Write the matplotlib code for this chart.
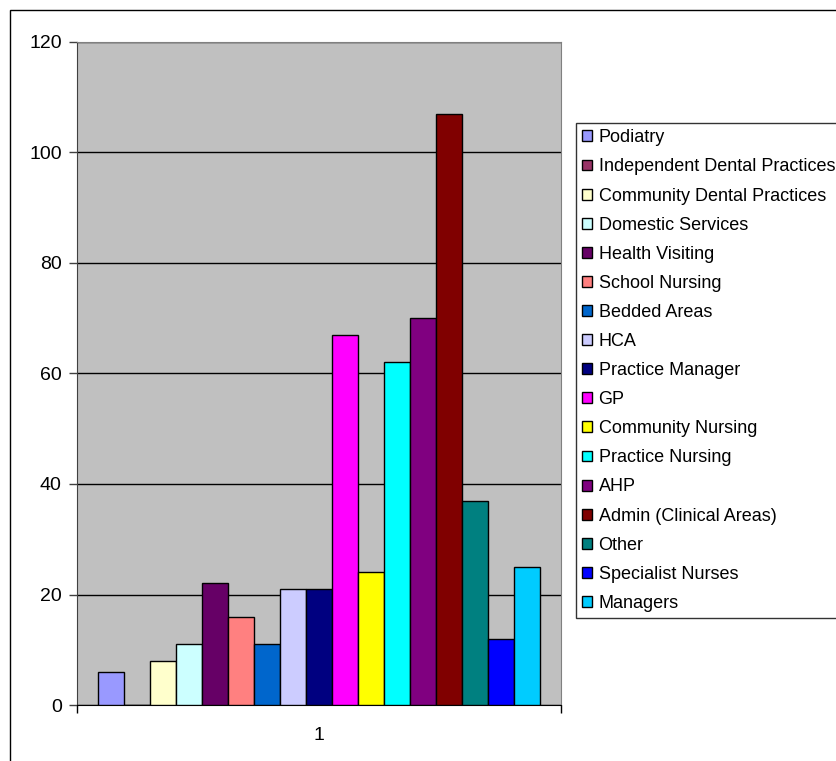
import matplotlib
matplotlib.use("Agg")
import matplotlib.pyplot as plt
from matplotlib.patches import Rectangle

plt.rcParams['font.family'] = ['Liberation Sans', 'DejaVu Sans']

staff_groups = [
    'Podiatry', 'Independent Dental Practices', 'Community Dental Practices',
    'Domestic Services', 'Health Visiting', 'School Nursing', 'Bedded Areas',
    'HCA', 'Practice Manager', 'GP', 'Community Nursing', 'Practice Nursing',
    'AHP', 'Admin (Clinical Areas)', 'Other', 'Specialist Nurses', 'Managers',
]
counts = [6, 0, 8, 11, 22, 16, 11, 21, 21, 67, 24, 62, 70, 107, 37, 12, 25]
colours = [
    '#9999FF', '#993366', '#FFFFCC', '#CCFFFF', '#660066', '#FF8080',
    '#0066CC', '#CCCCFF', '#000080', '#FF00FF', '#FFFF00', '#00FFFF',
    '#800080', '#800000', '#008080', '#0000FF', '#00CCFF',
]
category = '1'
y_ticks = [0, 20, 40, 60, 80, 100, 120]

W, H = 836, 761
fig = plt.figure(figsize=(W / 100, H / 100), dpi=100)
fig.patch.set_facecolor('white')

# chart area border (runs off the right and bottom edges)
fig.patches.append(Rectangle((10 / W, -0.1), 1.2, 1 - 10 / H + 0.1,
                             transform=fig.transFigure, fill=False,
                             edgecolor='black', linewidth=1.0))

ax = fig.add_axes([77 / W, 1 - 705 / H, (561 - 77) / W, (705 - 42) / H])
ax.set_facecolor('#C0C0C0')

n = len(counts)
for i, (name, val, col) in enumerate(zip(staff_groups, counts, colours)):
    ax.bar(i, val, width=1.0, color=col, edgecolor='black', linewidth=1.0,
           label=name, zorder=3)

ax.set_xlim(-0.5 - 0.79, n - 0.5 + 0.79)
ax.set_ylim(0, 120)
ax.set_yticks(y_ticks)
ax.yaxis.grid(True, color='black', linewidth=1.0, zorder=1)
ax.set_axisbelow(True)

ax.set_xticks([ax.get_xlim()[0], ax.get_xlim()[1]])
ax.set_xticklabels(['', ''])
ax.text((n - 1) / 2, -5.5, category, ha='center', va='center', fontsize=14)

ax.tick_params(axis='y', direction='out', length=6, width=1, labelsize=14,
               pad=5, color='#404040')
ax.tick_params(axis='x', direction='out', length=6, width=1, color='black')

for side in ['top', 'right']:
    ax.spines[side].set_color('#808080')
ax.spines['left'].set_color('#404040')
ax.spines['bottom'].set_color('black')

leg = fig.legend(loc='upper left', bbox_to_anchor=(576 / W, 1 - 123 / H),
                 bbox_transform=fig.transFigure, fontsize=13,
                 frameon=True, fancybox=False, edgecolor='black',
                 handlelength=0.55, handleheight=0.55, handletextpad=0.35,
                 labelspacing=0.67, borderpad=0.35, borderaxespad=0)
leg.get_frame().set_linewidth(1.0)

fig.savefig('out.png', dpi=100)
